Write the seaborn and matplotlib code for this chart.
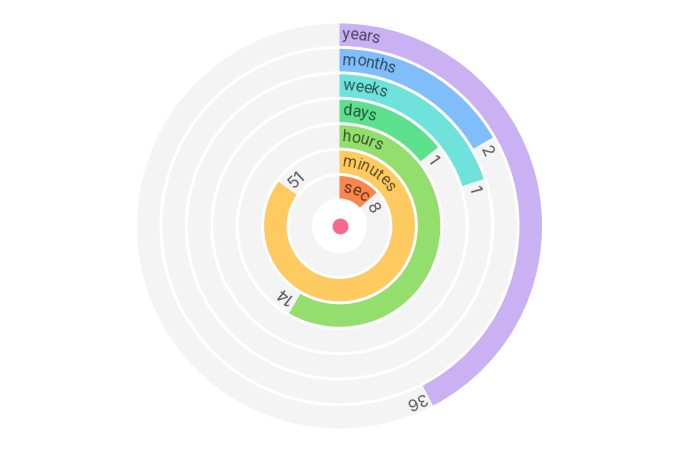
import matplotlib
matplotlib.use("Agg")
import numpy as np
import matplotlib.pyplot as plt
import seaborn as sns
from matplotlib.font_manager import FontProperties, findfont, get_font

# time elapsed, one ring per unit (outer -> inner)
units = ["years", "months", "weeks", "days", "hours", "minutes", "sec"]
values = [36, 2, 1, 1, 14, 51, 8]
full_scale = [85, 12, 5, 7, 24, 60, 60]
colors = ["#c9b1f4", "#80befb", "#6fe3db", "#5ee18f", "#93de6c", "#ffca5f", "#f9854f"]

sns.set_theme(style="white")
plt.rcParams["font.family"] = ["Roboto", "DejaVu Sans"]

W, H = 680, 451
fig = plt.figure(figsize=(W / 100, H / 100), dpi=100)
R_OUT, R_IN = 204, 26
cx, cy = 339.5, H - 226
ax = fig.add_axes([(cx - R_OUT) / W, (cy - R_OUT) / H, 2 * R_OUT / W, 2 * R_OUT / H],
                  projection="polar")
ax.set_theta_zero_location("N")
ax.set_theta_direction(-1)
ax.set_ylim(0, R_OUT)
ax.axis("off")

ring = (R_OUT - R_IN) / len(units)
gap = 3

fp_name = FontProperties(family="Roboto", size=11.5)
fp_num = FontProperties(family="Inter", size=12)
renderer = fig.canvas.get_renderer()


def arc_text(s, theta0, r, fp, color, alpha=1.0, track=0.0):
    # lay characters along the arc, clockwise
    ft = get_font(findfont(fp))
    ft.set_size(fp.get_size_in_points(), 100)
    pos = 0.0
    for ch in s:
        a = ft.load_char(ord(ch)).linearHoriAdvance / 65536 + track
        th = theta0 + (pos + a / 2) / r
        pos += a
        ax.text(th, r, ch, rotation=-np.degrees(th), rotation_mode="anchor",
                ha="center", va="baseline", fontproperties=fp,
                color=color, alpha=alpha, zorder=4)


def tangent_label(s, theta0, r, fp, color):
    # short label as one piece, centred on the tangent
    w = renderer.get_text_width_height_descent(s, fp, ismath=False)[0]
    th = theta0 + (w / 2) / r
    ax.text(th, r, s, rotation=-np.degrees(th), rotation_mode="anchor",
            ha="center", va="baseline", fontproperties=fp, color=color, zorder=4)


for i, (u, v, m, c) in enumerate(zip(units, values, full_scale, colors)):
    bottom = R_OUT - (i + 1) * ring + gap / 2
    h = ring - gap
    ax.bar(0, h, width=2 * np.pi, bottom=bottom, align="edge", color="#f4f4f4", linewidth=0)
    end = v / m * 2 * np.pi
    ax.bar(0, h, width=end, bottom=bottom, align="edge", color=c, linewidth=0, zorder=2)
    r_mid = bottom + h / 2
    arc_text(u, 3 / (r_mid - 4.5), r_mid - 4.5, fp_name, "black", alpha=0.6, track=-0.4)
    tangent_label(str(v), end + 3 / (r_mid - 6), r_mid - 6, fp_num, "#5a5a5a")

ax.scatter([0], [0], s=130, color="#f7688a", linewidths=0, zorder=5)

fig.savefig("out.png", dpi=100)
